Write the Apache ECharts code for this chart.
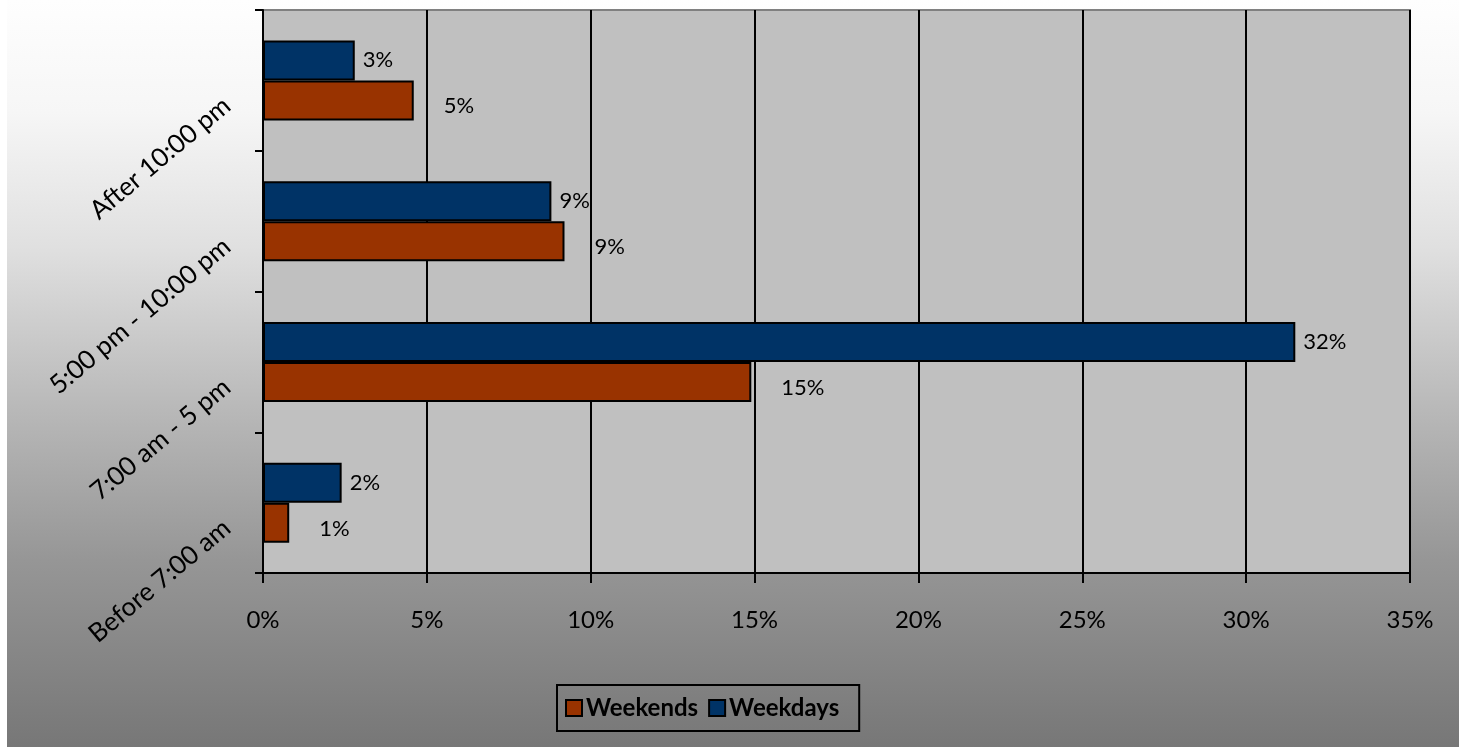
<!DOCTYPE html>
<html>
<head>
<meta charset="utf-8">
<script src="https://cdn.jsdelivr.net/npm/echarts@6/dist/echarts.min.js"></script>
<style>
html,body{margin:0;padding:0;background:#fff;}
#chart{width:1466px;height:747px;}
</style>
</head>
<body>
<div id="chart"></div>
<script>
// Data (categories listed bottom to top)
const categories = ['Before 7:00 am', '7:00 am - 5 pm', '5:00 pm - 10:00 pm', 'After 10:00 pm'];
const weekends = [0.8, 14.9, 9.2, 4.6];
const weekdays = [2.4, 31.5, 8.8, 2.8];
const seriesNames = ['Weekends', 'Weekdays'];
const xTicks = { min: 0, max: 35, step: 5 };

const FONT = 'Lato';
const chart = echarts.init(document.getElementById('chart'));

const labelBase = {
  show: true,
  position: 'right',
  fontFamily: FONT,
  fontSize: 22,
  color: '#000',
  formatter: p => Math.round(p.value) + '%'
};

const option = {
  backgroundColor: '#ffffff',
  animation: false,
  graphic: {
    elements: [{
      type: 'rect',
      z: -100,
      silent: true,
      shape: { x: 7, y: 0, width: 1452, height: 747 },
      style: {
        fill: new echarts.graphic.LinearGradient(0, 0, 0, 1, [
          { offset: 0, color: '#fefefe' },
          { offset: 0.15, color: '#f6f6f6' },
          { offset: 0.33, color: '#e0e0e0' },
          { offset: 0.55, color: '#b8b8b8' },
          { offset: 0.75, color: '#969696' },
          { offset: 1, color: '#777777' }
        ])
      }
    }]
  },
  grid: {
    left: 263, right: 56, top: 10, bottom: 174,
    show: true,
    backgroundColor: '#c0c0c0',
    borderColor: '#808080',
    borderWidth: 2,
    containLabel: false
  },
  legend: {
    data: seriesNames,
    left: 557,
    top: 685,
    orient: 'horizontal',
    itemWidth: 16,
    itemHeight: 16,
    itemGap: 10,
    icon: 'rect',
    padding: [11, 20, 11, 8],
    borderColor: '#000',
    borderWidth: 2,
    textStyle: { fontFamily: FONT, fontSize: 24, fontWeight: 'bold', color: '#000', padding: [0, 0, 0, -1] }
  },
  xAxis: {
    type: 'value',
    min: xTicks.min,
    max: xTicks.max,
    interval: xTicks.step,
    axisLine: { show: true, lineStyle: { color: '#000', width: 2 } },
    axisTick: { show: true, length: 10, lineStyle: { color: '#000', width: 2 } },
    splitLine: { show: true, lineStyle: { color: '#000', width: 2 } },
    axisLabel: {
      formatter: '{value}%',
      margin: 35,
      fontFamily: FONT,
      fontSize: 24,
      color: '#000'
    }
  },
  yAxis: {
    type: 'category',
    data: categories,
    axisLine: { show: true, lineStyle: { color: '#000', width: 2 } },
    axisTick: { show: true, length: 8, lineStyle: { color: '#000', width: 2 } },
    splitLine: { show: false },
    axisLabel: {
      rotate: 40,
      margin: 10,
      fontFamily: FONT,
      fontSize: 26,
      color: '#000',
      padding: [0, 34, 0, 0]
    }
  },
  series: [
    {
      name: seriesNames[1],
      type: 'bar',
      data: weekdays,
      barWidth: 40,
      barGap: '0%',
      itemStyle: { color: '#003366', borderColor: '#000', borderWidth: 2 },
      label: Object.assign({}, labelBase, { distance: 8 })
    },
    {
      name: seriesNames[0],
      type: 'bar',
      data: weekends,
      barWidth: 40,
      barGap: '0%',
      itemStyle: { color: '#993300', borderColor: '#000', borderWidth: 2 },
      label: Object.assign({}, labelBase, { distance: 30, offset: [0, 6] })
    }
  ]
};
chart.setOption(option);
</script>
</body>
</html>
